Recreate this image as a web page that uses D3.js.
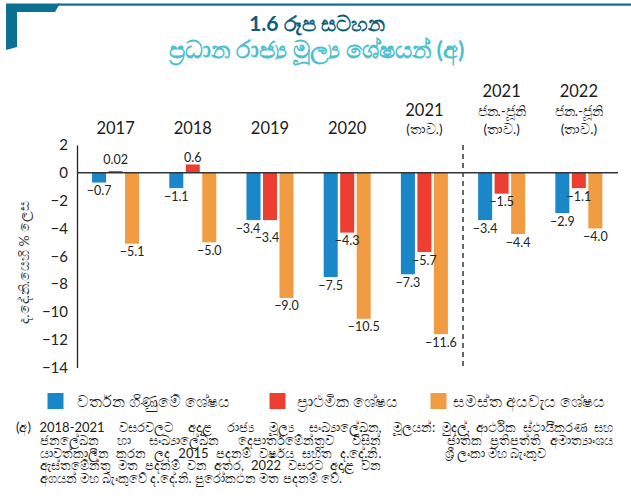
<!DOCTYPE html>
<html>
<head>
<meta charset="utf-8">
<script src="https://cdn.jsdelivr.net/npm/d3@7"></script>
<style>
  html, body { margin: 0; padding: 0; background: #fff; }
  svg { display: block; }
  text { font-family: Lato, "Noto Sans", "DejaVu Sans", sans-serif; }
</style>
</head>
<body>
<svg id="chart" width="631" height="498"></svg>
<script>
// ---------- DATA ----------
const categories = ["2017", "2018", "2019", "2020", "2021p", "2021h", "2022h"];
const categoryLabels = [
  ["2017"],
  ["2018"],
  ["2019"],
  ["2020"],
  ["2021", "(තාව.)"],
  ["2021", "ජන.-ජූනි", "(තාව.)"],
  ["2022", "ජන.-ජූනි", "(තාව.)"]
];
const seriesNames = ["වර්තන ගිණුමේ ශේෂය", "ප්‍රාථමික ශේෂය", "සමස්ත අයවැය ශේෂය"];
const currentAccount = [-0.7, -1.1, -3.4, -7.5, -7.3, -3.4, -2.9];
const primaryBalance = [0.02, 0.6, -3.4, -4.3, -5.7, -1.5, -1.1];
const overallBalance = [-5.1, -5.0, -9.0, -10.5, -11.6, -4.4, -4.0];
const yTicks = [2, 0, -2, -4, -6, -8, -10, -12, -14];
const seriesColors = ["#1a87c9", "#ee3d31", "#f19c43"];

const titleText = "1.6 රූප සටහන";
const subtitleText = "ප්‍රධාන රාජ්‍ය මූල්‍ය ශේෂයන් (අ)";
const yAxisTitle = "ද.දේ.නි.යෙහි % ලෙස";
const footnoteLines = [
  "2018-2021 වසරවලට අදාළ රාජ්‍ය මූල්‍ය සංඛ්‍යාලේඛන,",
  "ජනලේඛන හා සංඛ්‍යාලේඛන දෙපාර්තමේන්තුව විසින්",
  "යාවත්කාලීන කරන ලද 2015 පදනම් වර්ෂය සහිත ද.දේ.නි.",
  "ඇස්තමේන්තු මත පදනම් වන අතර, 2022 වසරට අදාළ වන",
  "අගයන් මහ බැංකුවේ ද.දේ.නි. පුරෝකථන මත පදනම් වේ."
];
const footnoteMark = "(අ)";
const sourceLines = [
  "මූලයන්: මුදල්, ආර්ථික ස්ථායීකරණ සහ",
  "ජාතික ප්‍රතිපත්ති අමාත්‍යාංශය",
  "ශ්‍රී ලංකා මහ බැංකුව"
];

// ---------- HELPERS ----------
const svg = d3.select("#chart");
function fitWidth(sel, base, target) {
  sel.attr("font-size", base);
  const w = sel.node().getComputedTextLength();
  if (w > 0) sel.attr("font-size", base * target / w);
  return sel;
}
function naturalWidth(str, size, family) {
  const t = svg.append("text").attr("font-size", size).attr("font-family", family).text(str);
  const w = t.node().getComputedTextLength();
  t.remove();
  return w;
}
// one <text> element, one <tspan> per line, each line justified via word-spacing
function paragraph(g, lines, xs, y0, lh, widths, justifyFlags, size, family) {
  const t = g.append("text").attr("font-size", size).attr("font-family", family);
  lines.forEach((ln, k) => {
    const ts = t.append("tspan").attr("x", xs[k]).attr("y", y0 + k * lh).text(ln);
    if (justifyFlags[k]) {
      const nat = naturalWidth(ln, size, family);
      const spaces = (ln.match(/ /g) || []).length;
      if (spaces > 0) ts.attr("word-spacing", (widths[k] - nat) / spaces);
    }
  });
  return t;
}

// ---------- BUILD ----------
const seriesValues = [currentAccount, primaryBalance, overallBalance];

// decoration
const teal = "#0c7093";
svg.append("polygon")
  .attr("points", "6,3.5 60,3.5 55,12 17,12 17,47 6,50")
  .attr("fill", teal);
svg.append("rect").attr("x", 58).attr("y", 3.5).attr("width", 573).attr("height", 2.2).attr("fill", teal);

// titles
const tt = svg.append("text").attr("x", 317).attr("y", 31)
  .attr("text-anchor", "middle").attr("font-weight", "bold")
  .attr("fill", "#0e5c7c").text(titleText);
fitWidth(tt, 18, 137);
const st = svg.append("text").attr("x", 317).attr("y", 58)
  .attr("text-anchor", "middle").attr("font-weight", "bold")
  .attr("fill", "#4dbfd0").text(subtitleText);
fitWidth(st, 19, 293);

// scales
const x = d3.scaleBand().domain(categories).range([77, 617.4]).paddingInner(0.391).paddingOuter(0.195);
const xi = d3.scaleBand().domain(d3.range(3)).range([0, x.bandwidth()]).paddingInner(0.15);
const y = d3.scaleLinear().domain([2, -14]).range([145, 367.5]);

// y axis
const yAxis = d3.axisLeft(y).tickValues(yTicks).tickSize(0).tickPadding(9).tickFormat(d3.format("d"));
const ga = svg.append("g").attr("transform", "translate(77,0)").call(yAxis);
ga.select(".domain").attr("stroke", "#222").attr("stroke-width", 1.3);
ga.selectAll(".tick text").attr("font-size", 15).attr("fill", "#222")
  .attr("font-family", "Lato, 'Noto Sans', sans-serif");

const yt = svg.append("text")
  .attr("transform", `translate(29,${(y(2) + y(-14)) / 2 + 6}) rotate(-90)`)
  .attr("text-anchor", "middle").attr("fill", "#333")
  .text(yAxisTitle);
fitWidth(yt, 13, 122);

// category labels (top)
const catG = svg.append("g");
categories.forEach((c, i) => {
  const lines = categoryLabels[i];
  const cx = x(c) + x.bandwidth() / 2;
  const baseBottom = 134;
  lines.forEach((ln, j) => {
    const fromBottom = lines.length - 1 - j;
    const isYear = j === 0;
    catG.append("text")
      .attr("x", cx)
      .attr("y", baseBottom - fromBottom * 18.5)
      .attr("text-anchor", "middle")
      .attr("font-size", isYear ? 16.5 : 13.5)
      .attr("fill", "#1a1a1a")
      .text(ln);
  });
});

// bars
const fmt = v => Math.abs(v) < 0.1 ? d3.format(".2f")(v) : d3.format(".1f")(v);
const barsG = svg.append("g");
const labelG = svg.append("g");
categories.forEach((c, i) => {
  const labels = [];
  seriesValues.forEach((vals, s) => {
    const v = vals[i];
    const bx = x(c) + xi(s);
    const y0 = y(0), y1 = y(v);
    const h = Math.max(Math.abs(y1 - y0), 1.8);
    barsG.append("rect")
      .attr("x", bx).attr("y", v >= 0 ? y0 - h : y0)
      .attr("width", xi.bandwidth()).attr("height", h)
      .attr("fill", seriesColors[s]);
    const lx = bx + xi.bandwidth() / 2;
    const ly = v >= 0 ? Math.min(y1 - 2, y0 - 9) : y1 + 12.5;
    labels.push({ v, lx, ly });
  });
  for (let k = 1; k < labels.length; k++) {
    const a = labels[k - 1], b = labels[k];
    if (Math.abs(a.ly - b.ly) < 8 && Math.abs(a.lx - b.lx) < 24) {
      a.lx -= 5.5;
      b.lx -= 3;
      b.ly += 9;
    }
  }
  labels.forEach(l => {
    labelG.append("text")
      .attr("x", l.lx).attr("y", l.ly)
      .attr("text-anchor", "middle").attr("font-size", 12.5).attr("fill", "#222")
      .text(fmt(l.v));
  });
});

// zero line
svg.append("line")
  .attr("x1", 77).attr("x2", 618).attr("y1", y(0)).attr("y2", y(0))
  .attr("stroke", "#333").attr("stroke-width", 1.4);

// dashed separator
const sepX = (x(categories[4]) + x.bandwidth() + x(categories[5])) / 2;
svg.append("line")
  .attr("x1", sepX).attr("x2", sepX).attr("y1", y(2)).attr("y2", y(-14))
  .attr("stroke", "#444").attr("stroke-width", 1.6).attr("stroke-dasharray", "5,4");

// legend
const legendX = [47.5, 269.5, 430.5];
const legendTextX = [76.7, 296.7, 452.7];
const legendTextW = [161, 106, 160];
const legG = svg.append("g");
seriesNames.forEach((n, s) => {
  legG.append("rect").attr("x", legendX[s]).attr("y", 393).attr("width", 16).attr("height", 16)
    .attr("fill", seriesColors[s]);
  const t = legG.append("text").attr("x", legendTextX[s]).attr("y", 407)
    .attr("fill", "#1a1a1a").text(n);
  fitWidth(t, 15.5, legendTextW[s]);
});

// footnote
const fnFont = "'Liberation Serif', 'DejaVu Serif', serif";
let fnSize = 12.5 * 112 / naturalWidth(sourceLines[2], 12.5, fnFont);
footnoteLines.slice(0, 4).forEach(ln => {
  const spaces = (ln.match(/ /g) || []).length;
  const w = naturalWidth(ln, fnSize, fnFont);
  const maxW = 342 - spaces * 3;
  if (w > maxW) fnSize *= maxW / w;
});
fnSize = Math.min(fnSize, 13);

const fnG = svg.append("g").attr("fill", "#1a1a1a");
fnG.append("text").attr("x", 16).attr("y", 432).attr("font-size", fnSize)
  .attr("font-family", fnFont).text(footnoteMark);
paragraph(fnG, footnoteLines,
  footnoteLines.map(() => 39.5), 432, 12.8,
  footnoteLines.map(() => 342),
  footnoteLines.map((d, k) => k < footnoteLines.length - 1),
  fnSize, fnFont);
paragraph(fnG, sourceLines,
  [393, 447, 444.5], 432, 13,
  [220, 166, 112],
  [true, true, false],
  fnSize, fnFont);
</script>
</body>
</html>
